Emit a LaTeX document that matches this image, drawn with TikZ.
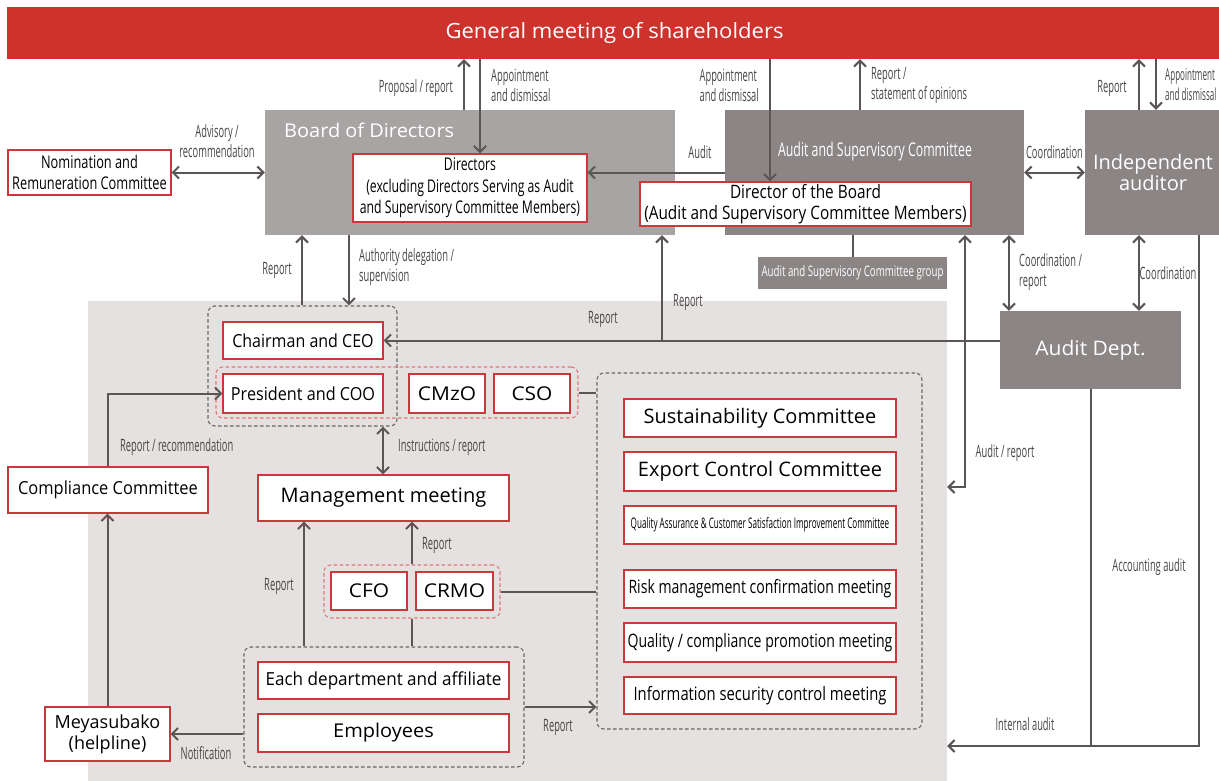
\documentclass[tikz,border=0pt]{standalone}
\usepackage{fontspec}
\setmainfont{Open Sans}
\usetikzlibrary{arrows.meta}
\definecolor{hdrred}{HTML}{CE322D}
\definecolor{boxred}{HTML}{C9383A}
\definecolor{boardgray}{HTML}{A9A4A4}
\definecolor{midgray}{HTML}{8B8585}
\definecolor{bggray}{HTML}{E5E1E1}
\definecolor{linegray}{HTML}{5B5656}
\definecolor{lblgray}{HTML}{4A4545}
\definecolor{grpgray}{HTML}{6A6565}
\definecolor{grpred}{HTML}{DE7A78}
% size, leading, horizontal stretch
\newcommand\boxfont[3]{\fontsize{#1}{#2}\selectfont\addfontfeatures{FakeStretch=#3}}
\tikzset{%
  box/.style={draw=boxred,fill=white,line width=1.2pt,inner sep=0pt,align=center,text=black},
  fillbox/.style={fill=#1,inner sep=0pt,align=center,text=white},
  fillbox/.default=midgray,
  wh/.style 2 args={minimum width=#1pt,minimum height=#2pt},
  dashgroup/.style={draw=#1,line width=1.1pt,rounded corners=7pt,dash pattern=on 3.5pt off 2.5pt,inner sep=0pt},
  dashgroup/.default=grpgray,
  link/.style={draw=linegray,line width=2pt},
  lbl/.style={font=\boxfont{17}{20}{0.55},text=lblgray,inner sep=0pt,align=left},
  >={Straight Barb[length=6pt,width=12pt]}
}

\begin{document}
\begin{tikzpicture}[x=1pt,y=-1pt]
    \useasboundingbox (0,0) rectangle (1219,780);

    % shareholders bar and background of the executive side
    \node[fillbox=hdrred,wh={1215}{52},font=\boxfont{21}{24}{1.05}] (gm) at (614.5,33) {General meeting of shareholders};
    \node[fillbox=bggray,wh={859}{480}] (bg) at (517.5,541) {};

    % board, committee, auditor
    \node[fillbox=boardgray,wh={410}{125}] (board) at (470,172.5) {};
    \node[anchor=west,text=white,inner sep=0pt,font=\boxfont{19}{21}{1.05}] (boardlbl) at (284,130) {Board of Directors};
    \node[fillbox,wh={299}{125}] (asc) at (874.5,172.5) {};
    \node[text=white,inner sep=0pt,font=\boxfont{19}{21}{0.65}] (asclbl) at (875,152) {Audit and Supervisory Committee};
    \node[fillbox,wh={136}{125},font=\boxfont{20}{21}{1.0}] (indep) at (1153,172.5) {Independent\\auditor};
    \node[fillbox,wh={189}{32},font=\boxfont{14.5}{16}{0.67}] (ascgrp) at (852.5,273) {Audit and Supervisory Committee group};
    \node[fillbox,wh={181}{78},font=\boxfont{20}{22}{1.05}] (auditdept) at (1090.5,350) {Audit Dept.};

    \node[box,wh={234}{68},font=\boxfont{17.5}{21.5}{0.7}] (dirs) at (470,188) {Directors\\(excluding Directors Serving as Audit\\and Supervisory Committee Members)};
    \node[box,wh={331}{44},font=\boxfont{18.5}{21}{0.83}] (dob) at (805.5,204) {Director of the Board\\(Audit and Supervisory Committee Members)};
    \node[box,wh={163}{45},font=\boxfont{17.5}{21}{0.73}] (nomi) at (89.5,172.5) {Nomination and\\Remuneration Committee};

    % dashed groups
    \node[dashgroup,wh={189}{120}] (ceogrp) at (302.5,366) {};
    \node[dashgroup=grpred,wh={362}{51}] (pregrp) at (397,392.5) {};
    \node[dashgroup=grpred,wh={176}{53}] (cfogrp) at (412,591.5) {};
    \node[dashgroup,wh={280}{120}] (deptgrp) at (384,707) {};
    \node[dashgroup,wh={325}{356}] (comgrp) at (759.5,551) {};

    % executive boxes
    \node[box,wh={160}{37},font=\boxfont{18}{20}{0.89}] (ceo) at (303,340.5) {Chairman and CEO};
    \node[box,wh={160}{39},font=\boxfont{18}{20}{0.9}] (coo) at (303,393.5) {President and COO};
    \node[box,wh={76}{39},font=\boxfont{19}{20}{1.1}] (cmzo) at (447,393.5) {CMzO};
    \node[box,wh={76}{39},font=\boxfont{19}{20}{1.1}] (cso) at (532,393.5) {CSO};
    \node[box,wh={200}{46},font=\boxfont{18}{20}{0.915}] (compl) at (108,490) {Compliance Committee};
    \node[box,wh={251}{46},font=\boxfont{20}{22}{1.0}] (mgmt) at (383.5,498) {Management meeting};
    \node[box,wh={76}{38},font=\boxfont{19}{20}{1.1}] (cfo) at (369,591) {CFO};
    \node[box,wh={77}{38},font=\boxfont{19}{20}{1.1}] (crmo) at (454.5,591) {CRMO};
    \node[box,wh={251}{37},font=\boxfont{18}{20}{0.95}] (dept) at (383.5,680.5) {Each department and affiliate};
    \node[box,wh={251}{38},font=\boxfont{19}{20}{1.05}] (empl) at (383.5,733) {Employees};
    \node[box,wh={125}{54},font=\boxfont{18}{21}{1.0}] (meya) at (107.5,734) {Meyasubako\\(helpline)};

    % committees and meetings
    \node[box,wh={272}{38},font=\boxfont{20}{22}{1.0}] (sus) at (760,418) {Sustainability Committee};
    \node[box,wh={272}{39},font=\boxfont{20}{22}{1.0}] (exp) at (760,471.5) {Export Control Committee};
    \node[box,wh={272}{38},font=\boxfont{14.5}{16}{0.56}] (qa) at (760,525) {Quality Assurance \& Customer Satisfaction Improvement Committee};
    \node[box,wh={272}{38},font=\boxfont{18.5}{20}{0.76}] (risk) at (760,589) {Risk management confirmation meeting};
    \node[box,wh={272}{39},font=\boxfont{18.5}{20}{0.76}] (qcp) at (760,642.5) {Quality / compliance promotion meeting};
    \node[box,wh={272}{37},font=\boxfont{18.5}{20}{0.8}] (isc) at (760,695.5) {Information security control meeting};

    % top connectors
    \draw[link,->] (464,0|-board.north) -- (464,0|-gm.south);
    \node[lbl,anchor=east] (propl) at (453,88) {Proposal / report};
    \draw[link,->] (480,0|-gm.south) -- (480,0|-dirs.north);
    \node[lbl,anchor=west] (appl1) at (491,85) {Appointment\\and dismissal};
    \draw[link,<->] (nomi.east) -- (board.west);
    \node[lbl,align=center] (advl) at (217,141) {Advisory /\\recommendation};
    \draw[link,->] (asc.west) -- (dirs.east|-asc.west);
    \node[lbl] (auditl) at (700,152) {Audit};
    \draw[link,->] (770,0|-gm.south) -- (770,0|-dob.north);
    \node[lbl,anchor=east] (appl2) at (759,85) {Appointment\\and dismissal};
    \draw[link,->] (860,0|-asc.north) -- (860,0|-gm.south);
    \node[lbl,anchor=west] (stmtl) at (871,85) {Report /\\statement of opinions};
    \draw[link,<->] (asc.east) -- (indep.west);
    \node[lbl] (coorl1) at (1054.5,152) {Coordination};
    \draw[link,->] (1139,0|-indep.north) -- (1139,0|-gm.south);
    \node[lbl] (repl1) at (1112,88) {Report};
    \draw[link,->] (1156,0|-gm.south) -- (1156,0|-indep.north);
    \node[lbl,anchor=west,font=\boxfont{16.5}{20}{0.49}] (appl3) at (1165,85) {Appointment\\and dismissal};

    % audit side
    \draw[link] (ascgrp.north|-asc.south) -- (ascgrp.north);
    \draw[link,->] (auditdept.west|-ceo.east) -- (ceo.east);
    \draw[link,->] (662,0|-ceo.east) -- (662,0|-board.south);
    \node[lbl] (repl2) at (603,319) {Report};
    \node[lbl] (repl3) at (688,302) {Report};
    \draw[link,<->] (965,0|-asc.south) |- (bg.east|-0,487);
    \node[lbl] (audrl) at (1005,453) {Audit / report};
    \draw[link,<->] (1009,0|-asc.south) -- (1009,0|-auditdept.north);
    \node[lbl,anchor=west] (coorl2) at (1019,272) {Coordination /\\report};
    \draw[link,<->] (1139,0|-indep.south) -- (1139,0|-auditdept.north);
    \node[lbl] (coorl3) at (1168,273) {Coordination};
    \draw[link,->] (1199,0|-indep.south) |- (bg.east|-0,746);
    \draw[link] (auditdept.south) -- (auditdept.south|-0,746);
    \node[lbl] (accl) at (1149,567) {Accounting audit};
    \node[lbl] (intl) at (1025,724) {Internal audit};

    % executive side
    \draw[link,->] (302,0|-ceogrp.north) -- (302,0|-board.south);
    \node[lbl,anchor=east] (repl4) at (292,270) {Report};
    \draw[link,->] (349,0|-board.south) -- (349,0|-ceogrp.north);
    \node[lbl,anchor=west] (authl) at (359,267) {Authority delegation /\\supervision};
    \draw[link] (pregrp.east) -- (comgrp.west|-pregrp.east);
    \draw[link,->] (compl.north) |- (coo.west);
    \node[lbl,anchor=west] (recl) at (120,447) {Report / recommendation};
    \draw[link,->] (meya.north) -- (meya.north|-compl.south);
    \draw[link,<->] (383,0|-ceogrp.south) -- (383,0|-mgmt.north);
    \node[lbl,anchor=west] (instl) at (398,447) {Instructions / report};
    \draw[link,->] (304,0|-deptgrp.north) -- (304,0|-mgmt.south);
    \node[lbl] (repl5) at (279,586) {Report};
    \draw[link,->] (cfogrp.north) -- (cfogrp.north|-mgmt.south);
    \node[lbl,anchor=west] (repl6) at (422,545) {Report};
    \draw[link] (cfogrp.south) -- (cfogrp.south|-deptgrp.north);
    \draw[link] (cfogrp.east) -- (comgrp.west|-cfogrp.east);
    \draw[link,->] (deptgrp.west|-meya.east) -- (meya.east);
    \node[lbl] (notl) at (206,753) {Notification};
    \draw[link,->] (deptgrp.east|-0,707) -- (comgrp.west|-0,707);
    \node[lbl] (repl7) at (558,727) {Report};

\end{tikzpicture}
\end{document}
